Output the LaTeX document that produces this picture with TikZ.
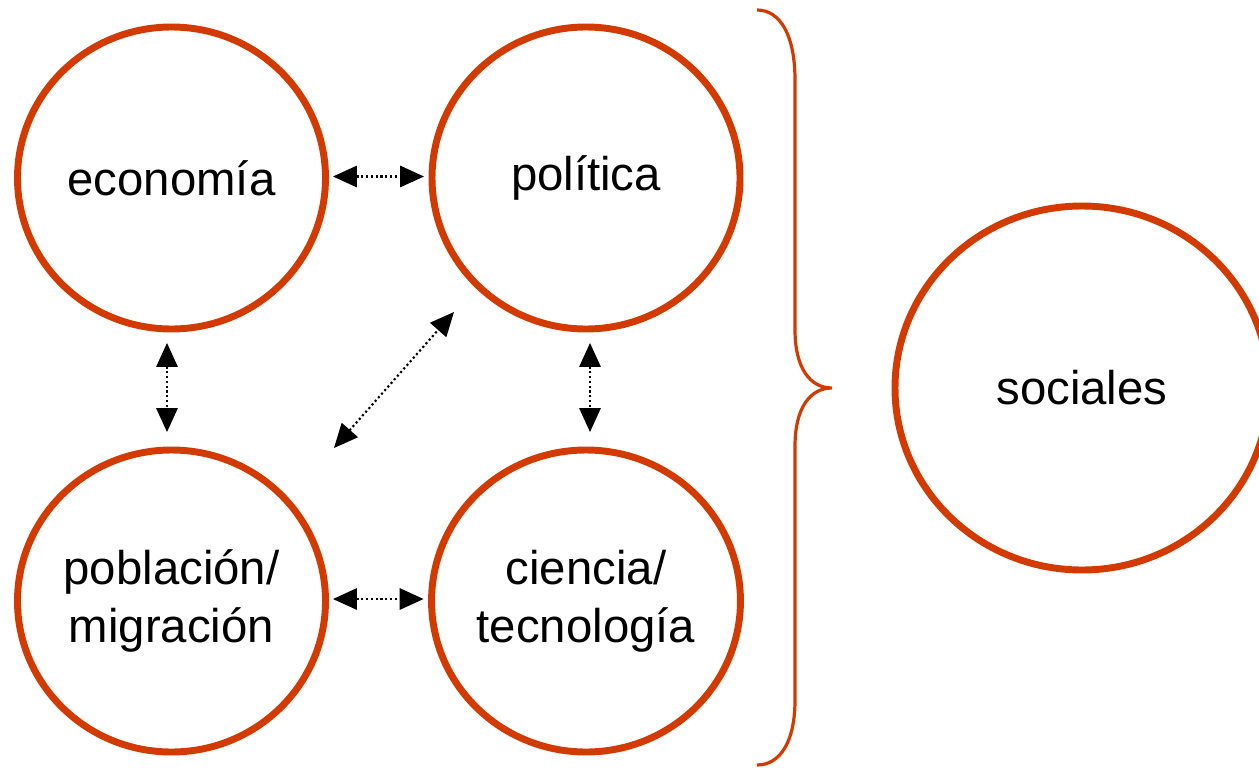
\documentclass[tikz,border=0pt]{standalone}
\usepackage{fontspec}
\setmainfont{Liberation Sans}
\usetikzlibrary{shapes.geometric,arrows.meta,calc}
\definecolor{rust}{RGB}{210,58,0}
\begin{document}
\begin{tikzpicture}[x=0.75pt,y=-0.75pt,
  topic/.style={ellipse,draw=rust,line width=5.2pt,inner sep=0pt,
    minimum width=231pt,minimum height=226.5pt,align=center,
    font=\fontsize{35.5}{43.5}\selectfont},
  bigtopic/.style={topic,minimum width=280.5pt,minimum height=273pt},
  link/.style={line width=1.6pt,dash pattern=on 1.6pt off 2pt,
    {Triangle[length=18pt,width=16pt]}-{Triangle[length=18pt,width=16pt]}},
  bracestroke/.style={draw=rust,line width=2.4pt}]
\useasboundingbox (0,0) rectangle (1259,767);
\node[topic] (eco) at (171.5,178) {economía};
\node[topic] (pol) at (586,178) {política};
\node[topic] (pob) at (171.5,601) {población/\\migración};
\node[topic] (cie) at (586,601) {ciencia/\\tecnología};
\node[bigtopic] (soc) at (1082,388) {sociales};
\draw[link] ($(eco.east)+(4,-1.5)$) -- ($(pol.west)+(-4.5,-1.5)$);
\draw[link] ($(pob.east)+(4,-2)$) -- ($(cie.west)+(-4.5,-2)$);
\draw[link] ($(eco.south)+(-4.5,10.5)$) -- ($(pob.north)+(-4.5,-14.5)$);
\draw[link] ($(pol.south)+(4,10.5)$) -- ($(cie.north)+(4,-14.5)$);
\draw[link] ($(pob.center)+(162.5,-153)$) -- ($(pol.center)+(-132,134)$);
\draw[bracestroke] (757,10) .. controls (780,10) and (795,35) .. (795,80)
  -- (795,330) .. controls (795,368) and (810,388) .. (832,388)
  .. controls (810,388) and (795,408) .. (795,446)
  -- (795,700) .. controls (795,742) and (780,765) .. (757,765);
\end{tikzpicture}
\end{document}
